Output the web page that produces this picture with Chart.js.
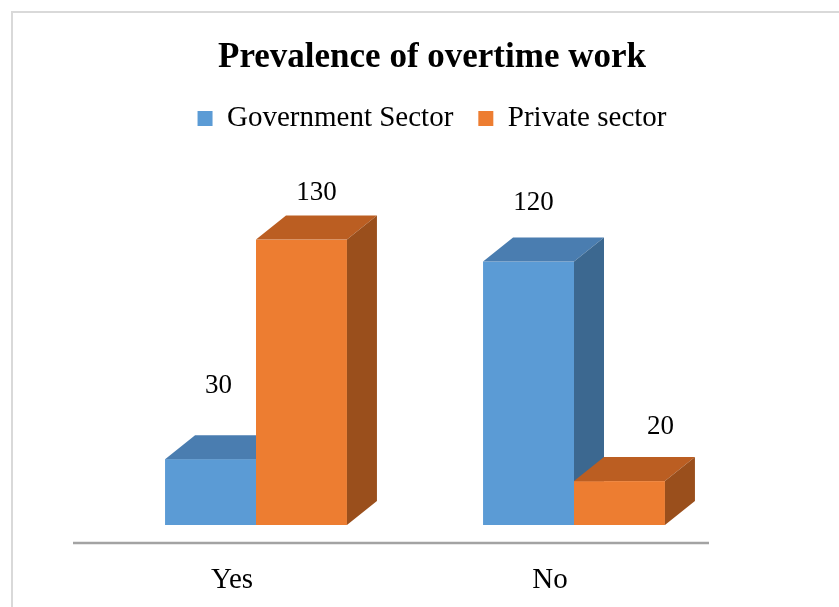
<!DOCTYPE html>
<html>
<head>
<meta charset="utf-8">
<title>Prevalence of overtime work</title>
<script src="https://cdn.jsdelivr.net/npm/chart.js@4"></script>
<style>
  body { margin: 0; background: #fff; }
  #wrap { position: relative; width: 839px; height: 607px; }
  #frame {
    position: absolute; left: 11px; top: 11px; right: 0; bottom: 0;
    border-top: 2px solid #d9d9d9; border-left: 2px solid #d9d9d9;
  }
  #overtimeChart { position: absolute; left: 0; top: 0; }
</style>
</head>
<body>
<div id="wrap">
  <div id="frame"></div>
  <canvas id="overtimeChart" width="839" height="607"></canvas>
</div>
<script>
const categories = ["Yes", "No"];
const governmentSector = [30, 120];
const privateSector = [130, 20];

const serif = "'Liberation Serif', 'Times New Roman', serif";

// face colours for the fake 3d boxes: front, top, side
const faces = [
  { front: "#5b9bd5", top: "#4a7db0", side: "#3c6890" },
  { front: "#ed7d31", top: "#bb5e22", side: "#9a4f1c" },
];

// box depth in pixels, and where the floor line sits in front of the bars
const depth = { dx: 30, dy: 24 };
const floor = { dx: -24, dy: 18 };

// value labels are nudged by hand relative to each bar's top-centre
const labelNudge = [
  [[8, -73], [5, -59]],
  [[15, -47], [41, -54]],
];

const boxes3d = {
  id: "boxes3d",
  beforeDatasetsDraw(chart) {
    const ctx = chart.ctx;
    const area = chart.chartArea;

    // floor line
    ctx.save();
    ctx.strokeStyle = "#a3a3a3";
    ctx.lineWidth = 2.5;
    ctx.beginPath();
    ctx.moveTo(area.left + floor.dx, area.bottom + floor.dy);
    ctx.lineTo(area.right + floor.dx, area.bottom + floor.dy);
    ctx.stroke();

    // boxes, category by category so nearer faces cover the ones behind
    categories.forEach((cat, i) => {
      chart.data.datasets.forEach((ds, d) => {
        const bar = chart.getDatasetMeta(d).data[i];
        const { x, y, base, width } = bar.getProps(["x", "y", "base", "width"], true);
        const x0 = x - width / 2;
        const x1 = x + width / 2;
        const c = faces[d];

        ctx.fillStyle = c.front;
        ctx.fillRect(x0, y, width, base - y);

        ctx.fillStyle = c.top;
        ctx.beginPath();
        ctx.moveTo(x0, y);
        ctx.lineTo(x1, y);
        ctx.lineTo(x1 + depth.dx, y - depth.dy);
        ctx.lineTo(x0 + depth.dx, y - depth.dy);
        ctx.closePath();
        ctx.fill();

        ctx.fillStyle = c.side;
        ctx.beginPath();
        ctx.moveTo(x1, y);
        ctx.lineTo(x1 + depth.dx, y - depth.dy);
        ctx.lineTo(x1 + depth.dx, base - depth.dy);
        ctx.lineTo(x1, base);
        ctx.closePath();
        ctx.fill();
      });
    });

    // value labels
    ctx.fillStyle = "#000";
    ctx.font = "27px " + serif;
    ctx.textAlign = "center";
    ctx.textBaseline = "middle";
    chart.data.datasets.forEach((ds, d) => {
      chart.getDatasetMeta(d).data.forEach((bar, i) => {
        const n = labelNudge[d][i];
        ctx.fillText(String(ds.data[i]), bar.x + n[0], bar.y + n[1]);
      });
    });
    ctx.restore();
    return false;
  },
};

const ctx = document.getElementById("overtimeChart").getContext("2d");
new Chart(ctx, {
  type: "bar",
  data: {
    labels: categories,
    datasets: [
      {
        label: "Government Sector",
        data: governmentSector,
        backgroundColor: faces[0].front,
        borderWidth: 0,
      },
      {
        label: "Private sector",
        data: privateSector,
        backgroundColor: faces[1].front,
        borderWidth: 0,
      },
    ],
  },
  options: {
    responsive: false,
    animation: false,
    events: [],
    layout: { padding: { left: 97, right: 72, top: 0, bottom: 8 } },
    datasets: { bar: { barPercentage: 1, categoryPercentage: 0.572 } },
    scales: {
      x: {
        grid: { display: false, drawTicks: false },
        border: { display: false },
        ticks: {
          color: "#000",
          font: { family: serif, size: 29 },
          padding: 38,
          labelOffset: -24,
        },
        afterFit: (scale) => {
          scale.height = 74;
        },
      },
      y: {
        position: "right",
        min: 0,
        max: 174,
        grid: { display: false },
        border: { display: false },
        ticks: { display: false },
        afterFit: (scale) => {
          scale.width = 34;
        },
      },
    },
    plugins: {
      title: {
        display: true,
        text: "Prevalence of overtime work",
        color: "#000",
        font: { family: serif, size: 35, weight: "bold" },
        padding: { top: 37, bottom: 0 },
      },
      legend: {
        display: true,
        position: "top",
        labels: {
          color: "#000",
          font: { family: serif, size: 29 },
          boxWidth: 15,
          boxHeight: 15,
          padding: 25,
        },
      },
      tooltip: { enabled: false },
    },
  },
  plugins: [boxes3d],
});
</script>
</body>
</html>
